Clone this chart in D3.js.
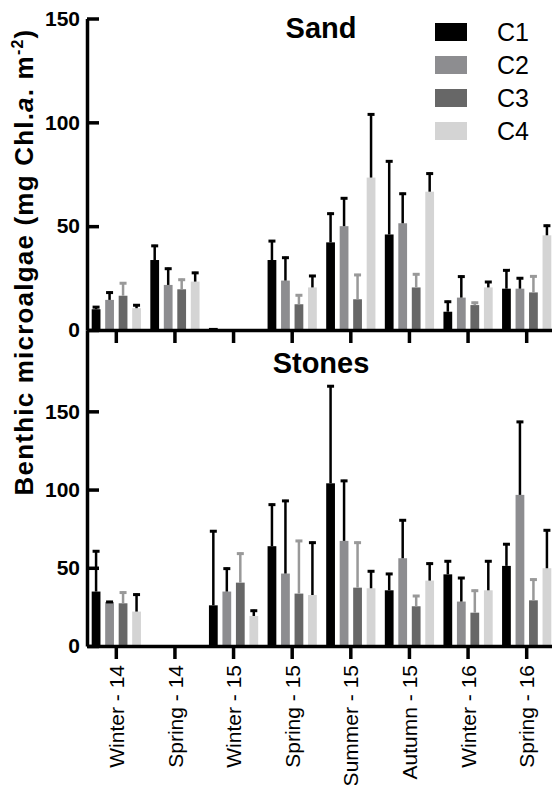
<!DOCTYPE html>
<html>
<head>
<meta charset="utf-8">
<script src="https://cdnjs.cloudflare.com/ajax/libs/d3/7.8.5/d3.min.js"></script>
<style>
  body { margin: 0; background: #fff; }
  svg { display: block; font-family: "Liberation Sans", Arial, sans-serif; }
  .yAxis text { font-weight: bold; font-size: 21px; }
  .xAxis text { font-size: 21px; }
</style>
</head>
<body>
<div id="chartDiv"></div>
<script>
const seasons = ["Winter - 14", "Spring - 14", "Winter - 15", "Spring - 15", "Summer - 15", "Autumn - 15", "Winter - 16", "Spring - 16"];
const series = ["C1", "C2", "C3", "C4"];
const seriesColors = ["#000000", "#8d8d90", "#676767", "#d4d4d4"];
const errColors = ["#000000", "#000000", "#999999", "#000000"];

// sand: means and SD (upper bar only)
const sandC1 = [10, 33.7, 1, 33.7, 42.2, 46, 8.8, 19.9];
const sandC2 = [14.5, 21.7, 0, 23.8, 50, 51.4, 15.6, 19.9];
const sandC3 = [16.5, 19.6, 0, 12.4, 14.8, 20.5, 12, 18.1];
const sandC4 = [10.5, 23.3, 0, 20.5, 73.4, 66.6, 20.5, 45.6];
const sandC1Sd = [1.5, 7.3, 0, 9.6, 14.3, 35.7, 5.3, 9.3];
const sandC2Sd = [4, 8.3, 0, 11.5, 13.9, 14.7, 10.6, 5.5];
const sandC3Sd = [6.5, 5.1, 0, 4.8, 12.2, 6.8, 1.6, 8.2];
const sandC4Sd = [1.9, 4.7, 0, 6, 30.9, 9.2, 3.1, 5.1];

// stones
const stonesC1 = [34.8, 0, 26, 63.8, 104, 35.6, 45.8, 51.2];
const stonesC2 = [28.1, 0, 34.8, 46.3, 67.2, 56.1, 28.4, 96.6];
const stonesC3 = [27.3, 0, 40.5, 33.5, 37.3, 25.4, 21.3, 29.2];
const stonesC4 = [22, 0, 19.2, 32.6, 36.9, 41.8, 35.6, 49.7];
const stonesC1Sd = [26.4, 0, 48, 27.2, 62.7, 11.1, 9, 14.5];
const stonesC2Sd = [0.7, 0, 15.3, 47.1, 39, 24.9, 15.7, 47.3];
const stonesC3Sd = [7.5, 0, 19.2, 34.3, 29.4, 7.2, 14.7, 13.9];
const stonesC4Sd = [11.5, 0, 4, 34.1, 11.5, 11.5, 19.2, 24.9];

const yTicks = [0, 50, 100, 150];

const width = 552, height = 785;
const axisX = 87;

const svgObj = d3.select('#chartDiv').append('svg')
    .attr('width', width)
    .attr('height', height);

const x = d3.scaleBand().domain(seasons).range([axisX, 556]);
const xs = d3.scaleBand().domain(series)
    .range([x.bandwidth() * 0.08, x.bandwidth() * 0.92])
    .paddingInner(0.35);

function toRows(means, sds){
    // flatten into one record per bar
    let rows = [];
    seasons.forEach((s, i) => {
        series.forEach((c, j) => {
            rows.push({season: s, series: c, idx: j, mean: means[j][i], sd: sds[j][i]});
        });
    });
    return rows;
}

function buildPanel(rows, y, title, titleY, showLabels){
    const g = svgObj.append('g');

    // bars
    g.selectAll('rect.bar')
        .data(rows.filter(d => d.mean > 0))
        .enter().append('rect')
        .attr('class', 'bar')
        .attr('x', d => x(d.season) + xs(d.series))
        .attr('width', xs.bandwidth())
        .attr('y', d => y(d.mean))
        .attr('height', d => y(0) - y(d.mean))
        .attr('fill', d => seriesColors[d.idx]);

    // error bars (upper only)
    const errs = g.selectAll('g.err')
        .data(rows.filter(d => d.sd > 0))
        .enter().append('g')
        .attr('class', 'err')
        .attr('stroke', d => errColors[d.idx]);
    errs.append('line')
        .attr('x1', d => x(d.season) + xs(d.series) + xs.bandwidth() / 2)
        .attr('x2', d => x(d.season) + xs(d.series) + xs.bandwidth() / 2)
        .attr('y1', d => y(d.mean))
        .attr('y2', d => y(d.mean + d.sd))
        .attr('stroke-width', 2.5);
    errs.append('line')
        .attr('x1', d => x(d.season) + xs(d.series) + xs.bandwidth() / 2 - 3.5)
        .attr('x2', d => x(d.season) + xs(d.series) + xs.bandwidth() / 2 + 3.5)
        .attr('y1', d => y(d.mean + d.sd) + 1)
        .attr('y2', d => y(d.mean + d.sd) + 1)
        .attr('stroke-width', 3);

    // axes
    const yAxis = g.append('g')
        .attr('class', 'yAxis')
        .attr('transform', `translate(${axisX},0)`)
        .call(d3.axisLeft(y).tickValues(yTicks).tickSize(-12).tickSizeOuter(0).tickPadding(7));

    const xAxis = g.append('g')
        .attr('class', 'xAxis')
        .attr('transform', `translate(0,${y(0)})`)
        .call(d3.axisBottom(x).tickSize(13).tickSizeOuter(0));

    g.selectAll('.domain').attr('stroke-width', 3.5);
    g.selectAll('.tick line').attr('stroke-width', 3.5);

    if(showLabels){
        xAxis.selectAll('text')
            .attr('text-anchor', 'end')
            .attr('transform', 'rotate(-90)')
            .attr('x', -19)
            .attr('y', 0)
            .attr('dy', '0.36em');
    }else{
        xAxis.selectAll('text').remove();
    }

    g.append('text')
        .attr('x', 321)
        .attr('y', titleY)
        .attr('text-anchor', 'middle')
        .attr('font-weight', 'bold')
        .attr('font-size', 29)
        .text(title);
    return g;
}

const ySand = d3.scaleLinear().domain([0, 150]).range([330, 18.5]);
const yStones = d3.scaleLinear().domain([0, 202]).range([646, 330]);

buildPanel(toRows([sandC1, sandC2, sandC3, sandC4], [sandC1Sd, sandC2Sd, sandC3Sd, sandC4Sd]), ySand, 'Sand', 38, false);
buildPanel(toRows([stonesC1, stonesC2, stonesC3, stonesC4], [stonesC1Sd, stonesC2Sd, stonesC3Sd, stonesC4Sd]), yStones, 'Stones', 373, true);

// legend
const legend = svgObj.append('g').attr('transform', 'translate(435,23)');
const legendRows = legend.selectAll('g')
    .data(series)
    .enter().append('g')
    .attr('transform', (d, i) => `translate(0,${i * 33})`);
legendRows.append('rect')
    .attr('width', 32)
    .attr('height', 18)
    .attr('fill', (d, i) => seriesColors[i]);
legendRows.append('text')
    .attr('x', 62)
    .attr('y', 18)
    .attr('font-size', 25)
    .text(d => d);

// y axis title
const yTitle = svgObj.append('text')
    .attr('transform', 'translate(33,262) rotate(-90)')
    .attr('text-anchor', 'middle')
    .attr('font-weight', 'bold')
    .attr('font-size', 26)
    .attr('letter-spacing', 1.2);
yTitle.append('tspan').text('Benthic microalgae (mg Chl.');
yTitle.append('tspan').attr('font-style', 'italic').text('a');
yTitle.append('tspan').text('. m');
yTitle.append('tspan').attr('font-size', 16).attr('dy', -10).text('-2');
yTitle.append('tspan').attr('dy', 10).text(')');
</script>
</body>
</html>
